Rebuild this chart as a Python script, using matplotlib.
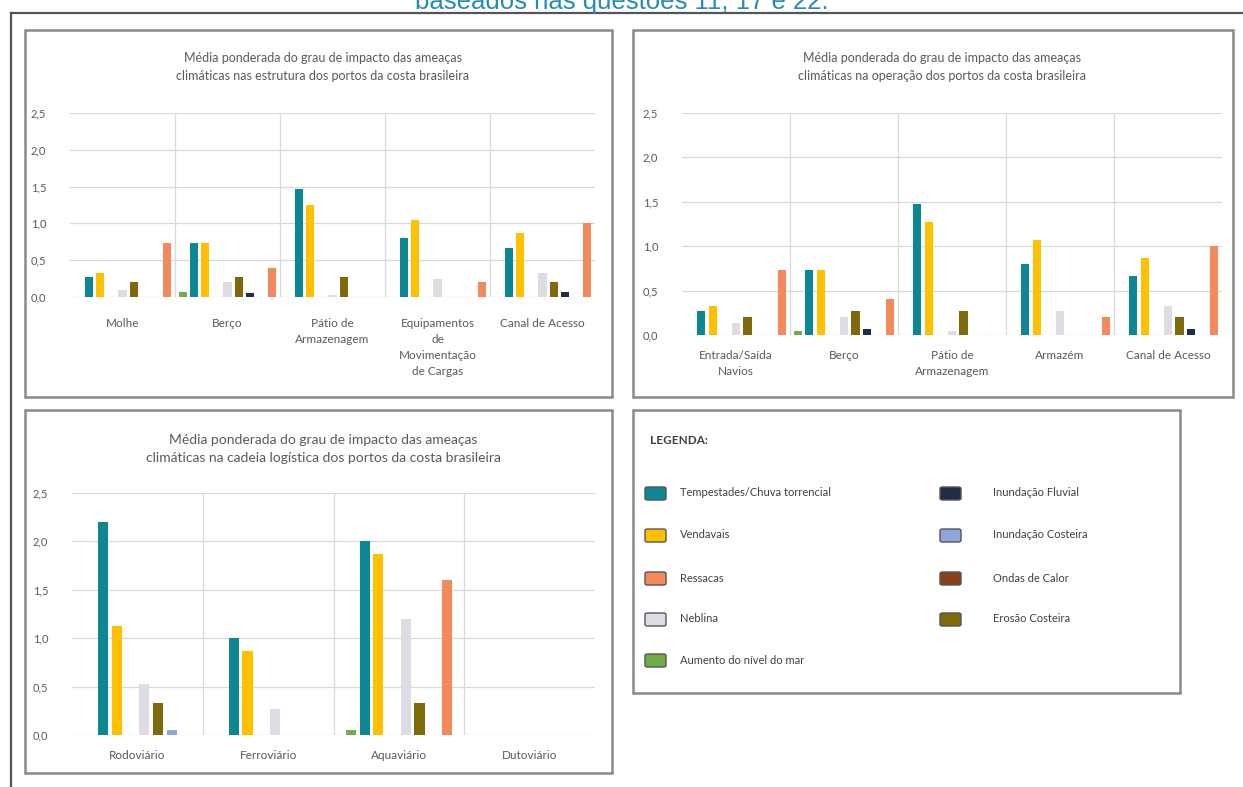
import numpy as np
import matplotlib
matplotlib.use("Agg")
import matplotlib.pyplot as plt
from matplotlib.patches import Rectangle, FancyBboxPatch

plt.rcParams['font.family'] = ['Lato', 'DejaVu Sans']

# series names / colours (legend order)
series = ["Aumento do nível do mar", "Tempestades/Chuva torrencial", "Vendavais",
          "Inundação Costeira", "Neblina", "Erosão Costeira",
          "Inundação Fluvial", "Ondas de Calor", "Ressacas"]
colors = {"Aumento do nível do mar": "#70AD47",
          "Tempestades/Chuva torrencial": "#0E8794",
          "Vendavais": "#FFC000",
          "Inundação Costeira": "#8FA6D8",
          "Neblina": "#DCDCE2",
          "Erosão Costeira": "#7E6A08",
          "Inundação Fluvial": "#1F2D48",
          "Ondas de Calor": "#86411A",
          "Ressacas": "#F48A5C"}

# estrutura
estr_cats = ["Molhe", "Berço", "Pátio de\nArmazenagem",
             "Equipamentos\nde\nMovimentação\nde Cargas", "Canal de Acesso"]
estr_aumento = [0, 0.07, 0, 0, 0]
estr_tempestades = [0.27, 0.73, 1.47, 0.80, 0.67]
estr_vendavais = [0.33, 0.73, 1.25, 1.05, 0.87]
estr_costeira = [0, 0, 0, 0, 0]
estr_neblina = [0.10, 0.20, 0.03, 0.25, 0.33]
estr_erosao = [0.20, 0.27, 0.27, 0, 0.20]
estr_fluvial = [0, 0.05, 0, 0, 0.07]
estr_ondas = [0, 0, 0, 0, 0]
estr_ressacas = [0.73, 0.40, 0, 0.20, 1.00]

# operacao
oper_cats = ["Entrada/Saída\nNavios", "Berço", "Pátio de\nArmazenagem",
             "Armazém", "Canal de Acesso"]
oper_aumento = [0, 0.05, 0, 0, 0]
oper_tempestades = [0.27, 0.73, 1.47, 0.80, 0.67]
oper_vendavais = [0.33, 0.73, 1.27, 1.07, 0.87]
oper_costeira = [0, 0, 0, 0, 0]
oper_neblina = [0.13, 0.20, 0.05, 0.27, 0.33]
oper_erosao = [0.20, 0.27, 0.27, 0, 0.20]
oper_fluvial = [0, 0.07, 0, 0, 0.07]
oper_ondas = [0, 0, 0, 0, 0]
oper_ressacas = [0.73, 0.40, 0, 0.20, 1.00]

# cadeia logistica
cad_cats = ["Rodoviário", "Ferroviário", "Aquaviário", "Dutoviário"]
cad_aumento = [0, 0, 0.05, 0]
cad_tempestades = [2.20, 1.00, 2.00, 0]
cad_vendavais = [1.13, 0.87, 1.87, 0]
cad_fluvial = [0, 0, 0, 0]
cad_neblina = [0.53, 0.27, 1.20, 0]
cad_erosao = [0.33, 0, 0.33, 0]
cad_costeira = [0.05, 0, 0, 0]
cad_ressacas = [0, 0, 1.60, 0]

W, H = 1243, 787
fig = plt.figure(figsize=(W / 100, H / 100), dpi=100)

def fx(px):
    return px / W

def fy(py):
    return 1 - py / H

def box(l, t, r, b):
    fig.add_artist(Rectangle((fx(l), fy(b)), fx(r - l), (b - t) / H,
                             transform=fig.transFigure, fill=False,
                             ec="#8a8a8a", lw=1.8))

def chart(l, t, r, b, cats, data, spacing, title, title_y, tsize, xpad):
    ax = fig.add_axes([fx(l), fy(b), fx(r - l), (b - t) / H])
    n = len(data)
    x = np.arange(len(cats))
    for k, (name, vals) in enumerate(data):
        off = (k - (n - 1) / 2) * spacing
        ax.bar(x + off, vals, width=0.077, color=colors[name], zorder=3)
    ax.set_xlim(-0.5, len(cats) - 0.5)
    ax.set_ylim(0, 2.5)
    ticks = np.arange(0, 2.51, 0.5)
    ax.set_yticks(ticks)
    ax.set_yticklabels([f"{v:.1f}".replace(".", ",") for v in ticks])
    ax.set_xticks(x)
    ax.set_xticklabels(cats, linespacing=1.55, fontsize=8.5)
    ax.grid(axis="y", color="#d9d9d9", lw=0.9, zorder=0)
    for s in range(1, len(cats)):
        ax.axvline(s - 0.5, color="#d9d9d9", lw=0.9, zorder=0)
    for sp in ax.spines.values():
        sp.set_visible(False)
    ax.tick_params(length=0, labelcolor="#595959", labelsize=8)
    ax.tick_params(axis="x", labelsize=8.5)
    ax.tick_params(axis="y", pad=17)
    ax.tick_params(axis="x", pad=xpad)
    fig.text(fx((l + r) / 2 - 10), fy(title_y), title, ha="center", va="center",
             fontsize=tsize, color="#595959", linespacing=1.6)
    return ax

# caption cut at the top
fig.text(0.5, fy(9), "baseados nas questões 11, 17 e 22.", ha="center",
         va="baseline", fontsize=18.5, color="#2a8bb2", family="Liberation Sans")

# outer frame
fig.add_artist(plt.Line2D([fx(11), 1], [fy(13), fy(13)], color="#555555", lw=1.6,
                          transform=fig.transFigure))
fig.add_artist(plt.Line2D([fx(11), fx(11)], [fy(13), 0], color="#555555", lw=1.6,
                          transform=fig.transFigure))

box(25, 30, 612, 397)
chart(70, 113, 595, 297, estr_cats,
      [(series[0], estr_aumento), (series[1], estr_tempestades),
       (series[2], estr_vendavais), (series[3], estr_costeira),
       (series[4], estr_neblina), (series[5], estr_erosao),
       (series[6], estr_fluvial), (series[7], estr_ondas),
       (series[8], estr_ressacas)],
      0.107, "Média ponderada do grau de impacto das ameaças\n"
      "climáticas nas estrutura dos portos da costa brasileira", 67, 9, 15)

box(633, 30, 1233, 397)
chart(682, 113, 1222, 335, oper_cats,
      [(series[0], oper_aumento), (series[1], oper_tempestades),
       (series[2], oper_vendavais), (series[3], oper_costeira),
       (series[4], oper_neblina), (series[5], oper_erosao),
       (series[6], oper_fluvial), (series[7], oper_ondas),
       (series[8], oper_ressacas)],
      0.107, "Média ponderada do grau de impacto das ameaças\n"
      "climáticas na operação dos portos da costa brasileira", 67, 9, 11)

box(25, 410, 612, 773)
chart(72, 493, 595, 735, cad_cats,
      [(series[0], cad_aumento), (series[1], cad_tempestades),
       (series[2], cad_vendavais), (series[6], cad_fluvial),
       (series[4], cad_neblina), (series[5], cad_erosao),
       (series[3], cad_costeira), (series[8], cad_ressacas)],
      0.105, "Média ponderada do grau de impacto das ameaças\n"
      "climáticas na cadeia logística dos portos da costa brasileira", 449, 10, 11)

# legend panel
box(633, 410, 1180, 693)
fig.text(fx(650), fy(440), "LEGENDA:", fontsize=8.5, fontweight="bold",
         color="#404040", va="center")
left_col = ["Tempestades/Chuva torrencial", "Vendavais", "Ressacas", "Neblina",
            "Aumento do nível do mar"]
right_col = ["Inundação Fluvial", "Inundação Costeira", "Ondas de Calor",
             "Erosão Costeira"]
rows_y = [493, 535, 578, 619, 660]
for col, px, tx in [(left_col, 645, 680), (right_col, 940, 993)]:
    for name, yy in zip(col, rows_y):
        fig.add_artist(FancyBboxPatch((fx(px), fy(yy + 7)), fx(21), 13 / H,
                                      boxstyle="round,pad=0,rounding_size=0.002",
                                      transform=fig.transFigure,
                                      fc=colors[name], ec="#555555", lw=1.0))
        fig.text(fx(tx), fy(yy), name, fontsize=8, color="#404040", va="center")

fig.savefig("out.png", dpi=100)
